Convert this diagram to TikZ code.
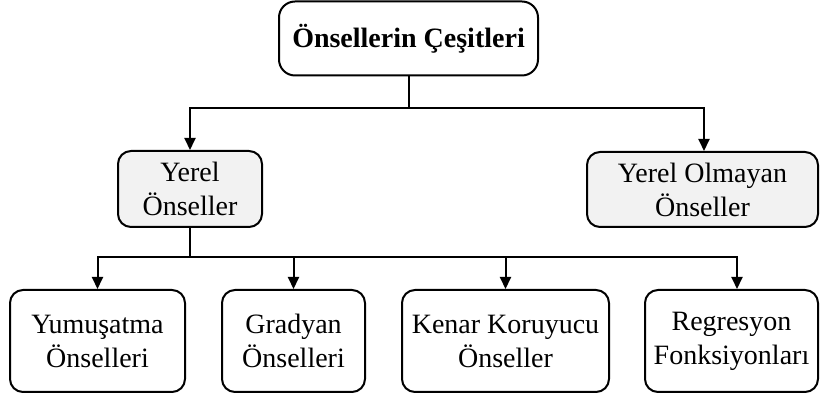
\documentclass[tikz,border=0pt]{standalone}
\usepackage{fontspec}
\setmainfont{Liberation Serif}
\usetikzlibrary{arrows.meta}
\definecolor{boxgray}{HTML}{F2F2F2}
\begin{document}
\begin{tikzpicture}[x=1pt,y=1pt,
  box/.style={draw=black,line width=2pt,rounded corners=13pt,align=center,
    inner sep=0pt,font=\fontsize{28}{34}\selectfont},
  midbox/.style={box,fill=boxgray},
  arr/.style={line width=2pt,-{Triangle[length=12pt,width=11pt]}},
  link/.style={line width=2pt}]
\useasboundingbox (0,0) rectangle (823,396);
% root
\node[box,minimum width=259pt,minimum height=74pt,rounded corners=16pt,
  font=\fontsize{28}{34}\selectfont\bfseries] (root) at (408.5,357.5) {Önsellerin Çeşitleri};
% second level
\node[midbox,minimum width=144pt,minimum height=76pt] (loc) at (190,207) {Yerel\\Önseller};
\node[midbox,minimum width=231pt,minimum height=75pt] (nonloc) at (702.5,206.5) {Yerel Olmayan\\Önseller};
% third level
\node[box,minimum width=175pt,minimum height=102pt] (smooth) at (97.5,55) {Yumuşatma\\Önselleri};
\node[box,minimum width=143pt,minimum height=102pt] (grad) at (293.5,55) {Gradyan\\Önselleri};
\node[box,minimum width=207pt,minimum height=102pt] (edge) at (505.5,55) {Kenar Koruyucu\\Önseller};
\node[box,minimum width=173pt,minimum height=102pt] (regr) at (731.5,55) {Regresyon\\Fonksiyonları};
% connectors
\coordinate (j1) at (root.south |- 0,288);
\draw[link] (root.south) -- (j1);
\draw[arr] (j1) -| (loc.north);
\draw[arr] (j1) -| ([xshift=1.5pt]nonloc.north);
\coordinate (j2) at (loc.south |- 0,139);
\draw[link] (loc.south) -- (j2);
\draw[arr] (j2) -| (smooth.north);
\draw[arr] (j2) -| (grad.north);
\draw[arr] (j2) -| (edge.north);
\draw[arr] (j2) -| ([xshift=5.5pt]regr.north);
\end{tikzpicture}
\end{document}
